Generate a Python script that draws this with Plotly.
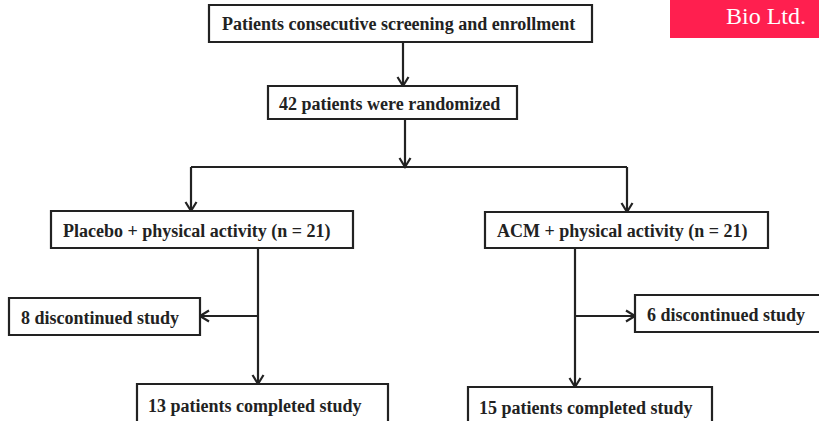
import plotly.graph_objects as go

# ---- content (flowchart labels) ----
node_labels = [
    "Patients consecutive screening and enrollment",
    "42 patients were randomized",
    "Placebo + physical activity (n = 21)",
    "ACM + physical activity (n = 21)",
    "8 discontinued study",
    "6 discontinued study",
    "13 patients completed study",
    "15 patients completed study",
]
badge_label = "Bio Ltd."

# ---- layout (pixel space of the 819x421 canvas) ----
# box: x0, y0, x1, y1 ; text centre: tx, ty
boxes = [
    (209, 5, 592, 42, 398, 24),
    (268, 86, 517, 119, 389, 104),
    (51, 211, 353, 248, 197, 231),
    (485, 212, 768, 248, 622, 231),
    (9, 298, 200, 335, 100, 318),
    (635, 295, 822, 332, 726, 315),
    (137, 384, 388, 430, 255, 406),
    (468, 387, 712, 430, 586, 408),
]
# plain connector lines
lines = [
    (191, 167, 627, 167),
]
# arrows: from (x0,y0) to tip (x1,y1)
arrows = [
    (403, 42, 403, 86),
    (405, 119, 405, 167),
    (191, 167, 191, 211),
    (627, 167, 627, 212),
    (258, 248, 258, 384),
    (258, 316, 200, 316),
    (575, 248, 575, 387),
    (575, 316, 635, 316),
]

INK = "#222222"
LW = 2.2

fig = go.Figure()
shapes = []
annotations = []

for (x0, y0, x1, y1) in lines:
    shapes.append(dict(type="line", x0=x0, y0=y0, x1=x1, y1=y1,
                       line=dict(color=INK, width=LW)))

for (x0, y0, x1, y1) in arrows:
    shapes.append(dict(type="line", x0=x0, y0=y0, x1=x1, y1=y1,
                       line=dict(color=INK, width=LW)))
    # open V head
    dx, dy = x1 - x0, y1 - y0
    L = (dx * dx + dy * dy) ** 0.5
    ux, uy = dx / L, dy / L
    px, py = -uy, ux
    hl, hw = 9, 5.5
    ax1 = x1 - ux * hl + px * hw
    ay1 = y1 - uy * hl + py * hw
    ax2 = x1 - ux * hl - px * hw
    ay2 = y1 - uy * hl - py * hw
    shapes.append(dict(type="path",
                       path=f"M {ax1},{ay1} L {x1},{y1} L {ax2},{ay2}",
                       line=dict(color=INK, width=LW)))

for label, (x0, y0, x1, y1, tx, ty) in zip(node_labels, boxes):
    shapes.append(dict(type="rect", x0=x0, y0=y0, x1=x1, y1=y1,
                       fillcolor="white", line=dict(color=INK, width=LW)))
    annotations.append(dict(x=tx, y=ty, text=label, showarrow=False,
                            xanchor="center", yanchor="middle",
                            font=dict(family="Liberation Serif", size=18,
                                      color=INK, weight="bold")))

# badge
shapes.append(dict(type="rect", x0=670, y0=-2, x1=822, y1=38,
                   fillcolor="#FF1F4F", line=dict(width=0)))
annotations.append(dict(x=766, y=16, text=badge_label, showarrow=False,
                        xanchor="center", yanchor="middle",
                        font=dict(family="Liberation Serif", size=24,
                                  color="white")))

fig.update_layout(
    width=819, height=421,
    margin=dict(l=0, r=0, t=0, b=0),
    paper_bgcolor="white", plot_bgcolor="white",
    xaxis=dict(range=[0, 819], visible=False, fixedrange=True),
    yaxis=dict(range=[421, 0], visible=False, fixedrange=True),
    shapes=shapes, annotations=annotations,
    showlegend=False,
)
fig.write_html(
    "out.html",
    config={"displayModeBar": False},
    post_script="document.body.style.margin='0';document.body.style.overflow='hidden';",
)
